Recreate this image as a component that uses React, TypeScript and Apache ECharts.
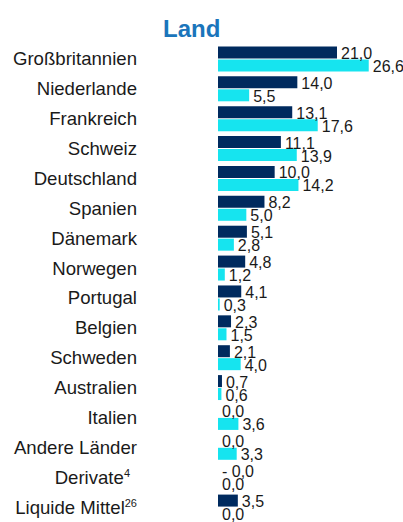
import React, { useEffect, useRef } from "react";
import * as echarts from "echarts";

const categories = [
  "Großbritannien",
  "Niederlande",
  "Frankreich",
  "Schweiz",
  "Deutschland",
  "Spanien",
  "Dänemark",
  "Norwegen",
  "Portugal",
  "Belgien",
  "Schweden",
  "Australien",
  "Italien",
  "Andere Länder",
  "Derivate{sup|4}{pad|}",
  "Liquide Mittel{sup|26}",
];
const seriesA = [21.0, 14.0, 13.1, 11.1, 10.0, 8.2, 5.1, 4.8, 4.1, 2.3, 2.1, 0.7, 0.0, 0.0, -0.01, 3.5];
const seriesB = [26.6, 5.5, 17.6, 13.9, 14.2, 5.0, 2.8, 1.2, 0.3, 1.5, 4.0, 0.6, 3.6, 3.3, 0.0, 0.0];
const titleText = "Land";

const FONT = "'Liberation Sans', Arial, sans-serif";

const fmt = (v: number) => {
  const s = Number(v).toFixed(1).replace(".", ",");
  return s.startsWith("-") ? "- " + s.slice(1) : s;
};

export default function App() {
  const ref = useRef<HTMLDivElement>(null);
  useEffect(() => {
    if (!ref.current) return;
    const chart = echarts.init(ref.current, undefined, { renderer: "svg" });
    const labelStyle = {
      show: true,
      position: "right" as const,
      distance: 4,
      fontFamily: FONT,
      fontSize: 16,
      color: "#1a1a1a",
      offset: [0, 1],
      formatter: (p: any) => fmt(p.value),
    };
    chart.setOption({
      animation: false,
      title: {
        text: titleText,
        left: 163,
        top: 16,
        padding: 0,
        textStyle: {
          fontFamily: FONT,
          fontSize: 24,
          fontWeight: "bold",
          color: "#1a75bb",
        },
      },
      grid: { left: 218, top: 44, width: 170, height: 480, containLabel: false },
      xAxis: {
        type: "value",
        min: 0,
        max: 30,
        show: false,
      },
      yAxis: {
        type: "category",
        inverse: true,
        data: categories,
        axisLine: { show: false },
        axisTick: { show: false },
        axisLabel: {
          margin: 81,
          fontFamily: FONT,
          fontSize: 18.6,
          color: "#1a1a1a",
          rich: {
            sup: { fontSize: 11, lineHeight: 11, verticalAlign: "top", color: "#1a1a1a", fontFamily: FONT },
            pad: { width: 7 },
          },
        },
      },
      series: [
        {
          type: "bar",
          data: seriesA,
          barWidth: 12,
          barGap: "8%",
          barCategoryGap: "18%",
          itemStyle: { color: "#002a5e" },
          label: labelStyle,
        },
        {
          type: "bar",
          data: seriesB,
          barWidth: 12,
          itemStyle: { color: "#16e4ef" },
          label: labelStyle,
        },
      ],
    });
    return () => chart.dispose();
  }, []);
  return (
    <div
      ref={ref}
      style={{ position: "fixed", left: 0, top: 0, width: 403, height: 522, background: "#fff" }}
    />
  );
}
